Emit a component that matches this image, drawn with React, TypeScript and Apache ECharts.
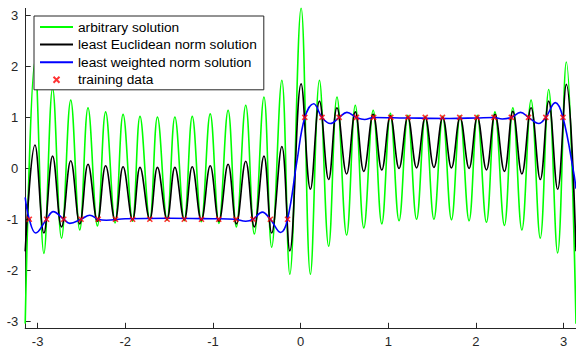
import React, { useEffect, useRef } from "react";
import * as echarts from "echarts";

// ---- data ----
const xLimits = [-3.1416, 3.1416];
const yLimits = [-3.1416, 3.1416];
const xTicks = [-3, -2, -1, 0, 1, 2, 3];
const yTicks = [-3, -2, -1, 0, 1, 2, 3];

// training data
const trainX = [
  -3.095, -2.898, -2.702, -2.505, -2.309, -2.112, -1.916, -1.720, -1.523, -1.327, -1.131, -0.934, -0.738, -0.542, -0.345, -0.149,
  0.048, 0.244, 0.440, 0.637, 0.833, 1.029, 1.226, 1.422, 1.618, 1.815, 2.011, 2.207, 2.404, 2.600, 2.797, 2.993,
];
const trainY = [
  -1, -1, -1, -1, -1, -1, -1, -1, -1, -1, -1, -1, -1, -1, -1, -1,
  1, 1, 1, 1, 1, 1, 1, 1, 1, 1, 1, 1, 1, 1, 1, 1,
];

// positions of the local extrema shared by the oscillating solutions
const oscX = [
  -3.1416, -3.030, -2.928, -2.829, -2.727, -2.622, -2.519, -2.425, -2.318, -2.224, -2.116, -2.025, -1.917, -1.832, -1.721, -1.633,
  -1.524, -1.434, -1.327, -1.236, -1.133, -1.031, -0.932, -0.827, -0.733, -0.626, -0.528, -0.418, -0.330, -0.214, -0.123,
  0.006, 0.112, 0.215, 0.320, 0.415, 0.525, 0.624, 0.721, 0.828, 0.926, 1.024, 1.123, 1.223, 1.323, 1.422, 1.521,
  1.621, 1.721, 1.819, 1.922, 2.016, 2.120, 2.217, 2.325, 2.421, 2.524, 2.629, 2.734, 2.830, 2.932, 3.031, 3.1416,
];
// least Euclidean norm solution (black)
const euclidY = [
  -1.63, 0.46, -1.27, 0.24, -1.15, 0.15, -1.09, 0.08, -1.04, 0.05, -1.02, 0.03, -1.01, 0.02, -1.0, 0.02,
  -1.0, 0.02, -1.01, 0.03, -1.02, 0.05, -1.04, 0.08, -1.09, 0.14, -1.15, 0.24, -1.27, 0.43, -1.62,
  1.66, -0.41, 1.32, -0.22, 1.19, -0.11, 1.11, -0.06, 1.06, -0.03, 1.03, 0.0, 1.01, 0.01, 1.0, 0.02,
  1.0, 0.01, 1.0, 0.0, 1.01, -0.03, 1.06, -0.06, 1.12, -0.11, 1.19, -0.22, 1.32, -0.41, 1.65, -1.63,
];
// arbitrary solution (green)
const arbitraryY = [
  -3.05, 2.1, -1.67, 1.57, -1.37, 1.34, -1.21, 1.19, -1.13, 1.11, -1.07, 1.06, -1.04, 1.02, -1.02, 1.01,
  -1.02, 1.01, -1.03, 1.02, -1.05, 1.07, -1.08, 1.14, -1.15, 1.24, -1.29, 1.4, -1.55, 1.73, -2.08,
  3.15, -2.08, 1.73, -1.53, 1.4, -1.31, 1.24, -1.17, 1.14, -1.09, 1.08, -1.03, 1.04, -1.0, 1.02, -1.0,
  1.02, -1.01, 1.03, -1.03, 1.04, -1.06, 1.11, -1.12, 1.19, -1.21, 1.34, -1.37, 1.55, -1.66, 2.09, -3.05,
];
// least weighted norm solution (blue)
const weightedX = [
  -3.1416, -3.095, -3.022, -2.898, -2.822, -2.702, -2.633, -2.505, -2.405, -2.309, -2.216, -2.0, -1.5, -1.0,
  -0.75, -0.626, -0.542, -0.437, -0.345, -0.228, -0.149, -0.040, 0.048, 0.150, 0.244, 0.340, 0.440, 0.528,
  0.637, 0.730, 0.833, 1.2, 1.7, 2.0, 2.207, 2.300, 2.404, 2.509, 2.600, 2.717, 2.797, 2.906, 2.993, 3.115, 3.1416,
];
const weightedY = [
  -0.57, -1.0, -1.27, -1.0, -0.85, -1.0, -1.08, -1.0, -0.92, -1.0, -1.02, -0.99, -0.98, -0.99,
  -1.0, -1.04, -1.0, -0.86, -1.0, -1.26, -1.0, 0.16, 1.0, 1.27, 1.0, 0.88, 1.0, 1.1,
  1.0, 0.96, 1.0, 0.99, 0.98, 0.99, 1.0, 0.97, 1.0, 1.1, 1.0, 0.88, 1.0, 1.29, 1.0, -0.08, -0.4,
];

const seriesNames = [
  "arbitrary solution",
  "least Euclidean norm solution",
  "least weighted norm solution",
  "training data",
];

const zip = (xs: number[], ys: number[]) => xs.map((x, i) => [x, ys[i]]);

const FONT = "'Liberation Sans', Arial, Helvetica, sans-serif";
const AXIS_COLOR = "#262626";

export default function App() {
  const ref = useRef<HTMLDivElement>(null);
  useEffect(() => {
    if (!ref.current) return;
    const chart = echarts.init(ref.current, null, { renderer: "svg" });
    const axisCommon = (ticks: number[], lim: number[]) => ({
      type: "value" as const,
      min: lim[0],
      max: lim[1],
      axisLine: { show: true, onZero: false, lineStyle: { color: AXIS_COLOR, width: 1 } },
      axisTick: { show: true, inside: true, length: 5.5, customValues: ticks, lineStyle: { color: AXIS_COLOR, width: 1 } },
      axisLabel: { customValues: ticks, color: AXIS_COLOR, fontSize: 13, fontFamily: FONT, margin: 7 },
      splitLine: { show: false },
    });
    const lineLegendItem = (name: string) => ({ name, itemStyle: { opacity: 0 } });
    chart.setOption({
      animation: false,
      backgroundColor: "#ffffff",
      grid: { left: 25.2, top: 8.4, width: 553.3, height: 319.9, containLabel: false },
      xAxis: axisCommon(xTicks, xLimits),
      yAxis: axisCommon(yTicks, yLimits),
      legend: {
        orient: "vertical",
        left: 34,
        top: 16,
        padding: [4, 7, 3, 5],
        itemWidth: 33,
        itemHeight: 6,
        itemGap: 3.6,
        backgroundColor: "#ffffff",
        borderColor: AXIS_COLOR,
        borderWidth: 1,
        borderRadius: 0,
        textStyle: { fontFamily: FONT, fontSize: 13.7, color: "#000000" },
        data: [
          lineLegendItem(seriesNames[0]),
          lineLegendItem(seriesNames[1]),
          lineLegendItem(seriesNames[2]),
          { name: seriesNames[3] },
        ],
      },
      series: [
        {
          name: seriesNames[0],
          type: "line",
          data: zip(oscX, arbitraryY),
          smooth: 0.4,
          symbol: "none",
          lineStyle: { color: "#00ff00", width: 1.6 },
          itemStyle: { color: "#00ff00" },
          z: 2,
        },
        {
          name: seriesNames[1],
          type: "line",
          data: zip(oscX, euclidY),
          smooth: 0.4,
          symbol: "none",
          lineStyle: { color: "#000000", width: 1.6 },
          itemStyle: { color: "#000000" },
          z: 3,
        },
        {
          name: seriesNames[2],
          type: "line",
          data: zip(weightedX, weightedY),
          smooth: 0.4,
          symbol: "none",
          lineStyle: { color: "#0000ff", width: 1.6 },
          itemStyle: { color: "#0000ff" },
          z: 4,
        },
        {
          name: seriesNames[3],
          type: "scatter",
          data: zip(trainX, trainY),
          symbol: "path://M0,0L10,10M0,10L10,0",
          symbolSize: 5,
          itemStyle: { color: "rgba(0,0,0,0)", borderColor: "#ff0000", borderWidth: 1.6 },
          z: 5,
        },
      ],
    });
    return () => chart.dispose();
  }, []);
  return (
    <div
      ref={ref}
      style={{ position: "absolute", left: 0, top: 0, width: 576, height: 349, background: "#fff" }}
    />
  );
}
